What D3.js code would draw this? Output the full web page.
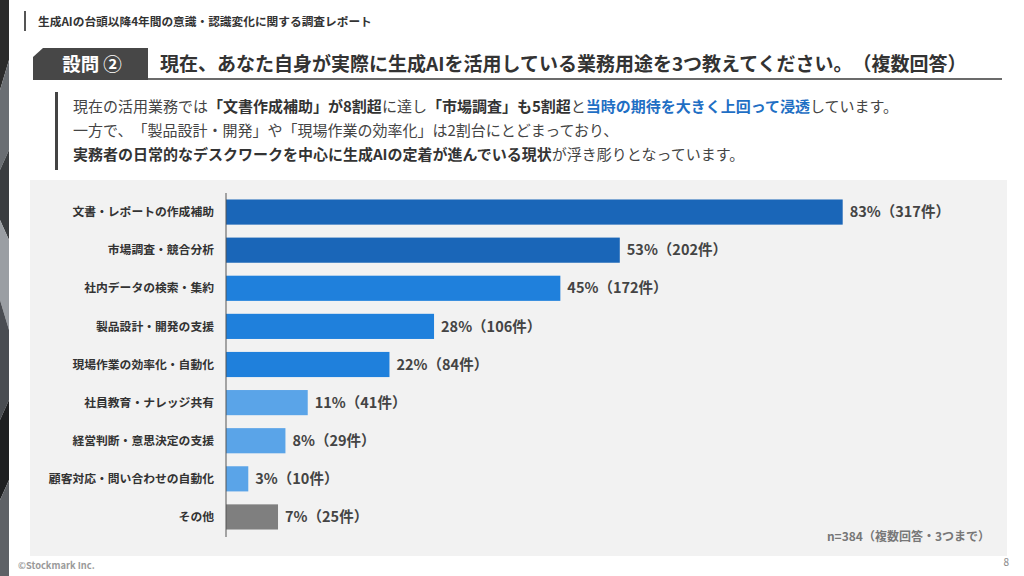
<!DOCTYPE html>
<html>
<head>
<meta charset="utf-8">
<script src="https://cdn.jsdelivr.net/npm/d3@7"></script>
<style>
  html, body { margin: 0; padding: 0; background: #fff; }
  svg {
    display: block;
    font-family: "Noto Sans CJK JP", "Noto Sans", sans-serif;
    text-spacing-trim: space-all;
    font-feature-settings: "chws" 0, "halt" 0, "palt" 0;
  }
</style>
</head>
<body>
<svg id="chart" width="1024" height="576"></svg>
<script>
// DATA
var categories = [
  "文書・レポートの作成補助",
  "市場調査・競合分析",
  "社内データの検索・集約",
  "製品設計・開発の支援",
  "現場作業の効率化・自動化",
  "社員教育・ナレッジ共有",
  "経営判断・意思決定の支援",
  "顧客対応・問い合わせの自動化",
  "その他"
];
var percents = [83, 53, 45, 28, 22, 11, 8, 3, 7];
var counts = [317, 202, 172, 106, 84, 41, 29, 10, 25];
var tiers = ["dark", "dark", "mid", "mid", "mid", "light", "light", "light", "other"];

// Colors
var tierColor = {
  dark: "#1a66b8",
  mid: "#1f80dc",
  light: "#5aa4e8",
  other: "#7f7f7f"
};

var svg = d3.select("#chart");

// left decorative strip
var strip = [
  [[0,0],[9,0],[9,60],[0,90]],
  [[0,90],[9,60],[9,150],[0,170]],
  [[0,170],[9,150],[9,240],[0,220]],
  [[0,220],[9,240],[9,330],[0,300]],
  [[0,300],[9,330],[9,400],[0,420]],
  [[0,420],[9,400],[9,480],[0,500]],
  [[0,500],[9,480],[9,576],[0,576]]
];
var stripFill = ["#2b2b2b", "#6a6e73", "#3a3d40", "#9a9ea3", "#4a4d52", "#1e1f21", "#5e6166"];
svg.selectAll("polygon.strip").data(strip).join("polygon")
  .attr("class", "strip")
  .attr("points", function (d) { return d.map(function (p) { return p.join(","); }).join(" "); })
  .attr("fill", function (d, i) { return stripFill[i]; });

// header
svg.append("rect").attr("x", 24).attr("y", 11).attr("width", 2).attr("height", 20).attr("fill", "#555");
svg.append("text").attr("x", 38).attr("y", 26)
  .attr("font-size", 11.7).attr("font-weight", 700).attr("fill", "#333")
  .text("生成AIの台頭以降4年間の意識・認識変化に関する調査レポート");

// question title
svg.append("polygon")
  .attr("points", "33,80 33,57 43,48 148,48 148,80")
  .attr("fill", "#474747");
svg.append("text").attr("x", 92).attr("y", 71).attr("text-anchor", "middle")
  .attr("font-size", 18.5).attr("font-weight", 700).attr("fill", "#fff")
  .text("設問 ②");
svg.append("rect").attr("x", 148).attr("y", 78).attr("width", 854).attr("height", 2).attr("fill", "#6b6b6b");
svg.append("text").attr("x", 160).attr("y", 71)
  .attr("font-size", 19).attr("font-weight", 700).attr("fill", "#333")
  .text("現在、あなた自身が実際に生成AIを活用している業務用途を3つ教えてください。（複数回答）");

// description
svg.append("rect").attr("x", 55).attr("y", 92).attr("width", 3).attr("height", 78).attr("fill", "#444");
var lines = [
  [["現在の活用業務では", 0], ["「文書作成補助」が8割超", 1], ["に達し", 0], ["「市場調査」も5割超", 1], ["と", 0], ["当時の期待を大きく上回って浸透", 2], ["しています。", 0]],
  [["一方で、「製品設計・開発」や「現場作業の効率化」は2割台にとどまっており、", 0]],
  [["実務者の日常的なデスクワークを中心に生成AIの定着が進んでいる現状", 1], ["が浮き彫りとなっています。", 0]]
];
lines.forEach(function (parts, i) {
  var t = svg.append("text").attr("x", 73).attr("y", 112 + i * 24)
    .attr("font-size", 15).attr("fill", "#444");
  parts.forEach(function (p) {
    t.append("tspan").text(p[0])
      .attr("font-weight", p[1] ? 700 : 400)
      .attr("fill", p[1] === 2 ? "#1f6fc4" : (p[1] === 1 ? "#333" : "#444"));
  });
});

// chart panel
svg.append("rect").attr("x", 30).attr("y", 180).attr("width", 977).attr("height", 376).attr("fill", "#f2f2f2");

var x = d3.scaleLinear().domain([0, 100]).range([226, 969]);
var y = d3.scaleBand().domain(categories).range([193, 536]).paddingInner(0.34).paddingOuter(0.17);

svg.selectAll("rect.bar").data(categories).join("rect")
  .attr("class", "bar")
  .attr("x", x(0))
  .attr("y", function (d) { return y(d); })
  .attr("width", function (d, i) { return x(percents[i]) - x(0); })
  .attr("height", y.bandwidth())
  .attr("fill", function (d, i) { return tierColor[tiers[i]]; });

svg.append("line").attr("x1", x(0)).attr("x2", x(0)).attr("y1", 193).attr("y2", 537)
  .attr("stroke", "#555").attr("stroke-width", 1);

svg.selectAll("text.cat").data(categories).join("text")
  .attr("class", "cat")
  .attr("x", 214)
  .attr("y", function (d) { return y(d) + y.bandwidth() / 2; })
  .attr("dy", "0.35em")
  .attr("text-anchor", "end")
  .attr("font-size", 11.8).attr("font-weight", 700).attr("fill", "#333")
  .text(function (d) { return d; });

svg.selectAll("text.val").data(categories).join("text")
  .attr("class", "val")
  .attr("x", function (d, i) { return x(percents[i]) + 7; })
  .attr("y", function (d) { return y(d) + y.bandwidth() / 2; })
  .attr("dy", "0.36em")
  .attr("font-size", 14.5).attr("font-weight", 700).attr("fill", "#444")
  .text(function (d, i) { return percents[i] + "%（" + counts[i] + "件）"; });

svg.append("text").attr("x", 990).attr("y", 541).attr("text-anchor", "end")
  .attr("font-size", 12).attr("font-weight", 700).attr("fill", "#777")
  .text("n=384（複数回答・3つまで）");

// footer
svg.append("text").attr("x", 18).attr("y", 569)
  .attr("font-size", 9.3).attr("font-weight", 700).attr("fill", "#9a9a9a")
  .text("©Stockmark Inc.");
svg.append("text").attr("x", 1009).attr("y", 566).attr("text-anchor", "end")
  .attr("font-size", 10).attr("fill", "#888")
  .text("8");
</script>
</body>
</html>
